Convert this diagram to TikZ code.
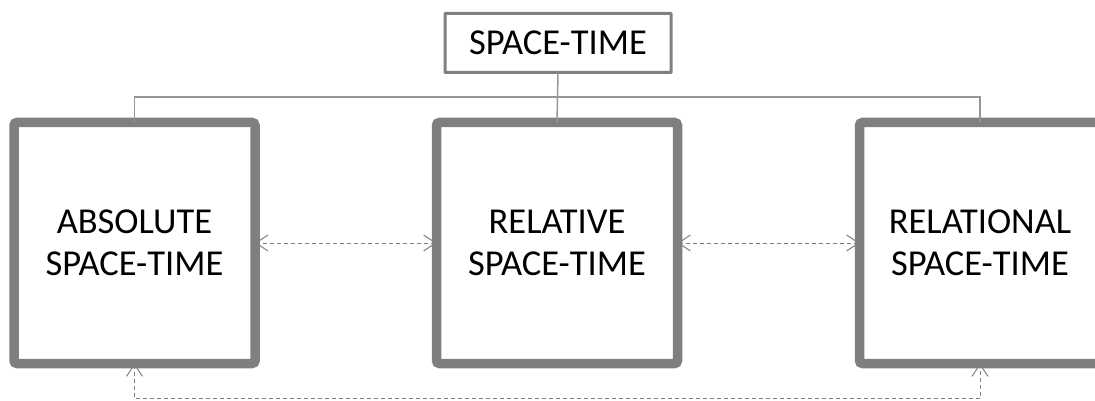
\documentclass[tikz,border=0pt]{standalone}
\usepackage{fontspec}
\setmainfont{Carlito}
\usetikzlibrary{arrows.meta}

\definecolor{boxgray}{RGB}{127,127,127}
\definecolor{linegray}{RGB}{150,150,150}

\begin{document}
\begin{tikzpicture}[
			x=1pt, y=-1pt,
			bigbox/.style={rectangle, draw=boxgray, line width=9.5pt, rounded corners=3pt, minimum width=241pt, minimum height=241pt, outer sep=0pt, align=center, font=\fontsize{36.5}{42}\selectfont},
			topbox/.style={rectangle, draw=boxgray, line width=3pt, rounded corners=0.5pt, minimum width=226pt, minimum height=59pt, outer sep=0pt, font=\fontsize{36.5}{42}\selectfont},
			link/.style={draw=linegray, line width=1.5pt},
			dasharrow/.style={draw=boxgray, line width=1pt, dash pattern=on 4pt off 3pt, {Straight Barb[length=12pt,width=16pt]}-{Straight Barb[length=12pt,width=16pt]}},
			]
			
			\clip (0,0) rectangle (1095,401);
			
			% Boxes
			\node[topbox] (top) at (558,43) {SPACE-TIME};
			\node[bigbox] (abs) at (134.5,243) {ABSOLUTE\\SPACE-TIME};
			\node[bigbox] (rel) at (557,243) {RELATIVE\\SPACE-TIME};
			\node[bigbox] (rln) at (980,243) {RELATIONAL\\SPACE-TIME};
			\coordinate (bus) at (557,97);
			
			% Tree lines from the top box
			\draw[link] (top.south) -- (rel.north);
			\draw[link] (abs.north) |- (bus) -| (rln.north);
			
			% Dashed links between the boxes
			\draw[dasharrow] (abs.east) -- (rel.west);
			\draw[dasharrow] (rel.east) -- (rln.west);
			\draw[dasharrow] (abs.south) -- ++(0,35) -| (rln.south);
			
		\end{tikzpicture}
\end{document}
